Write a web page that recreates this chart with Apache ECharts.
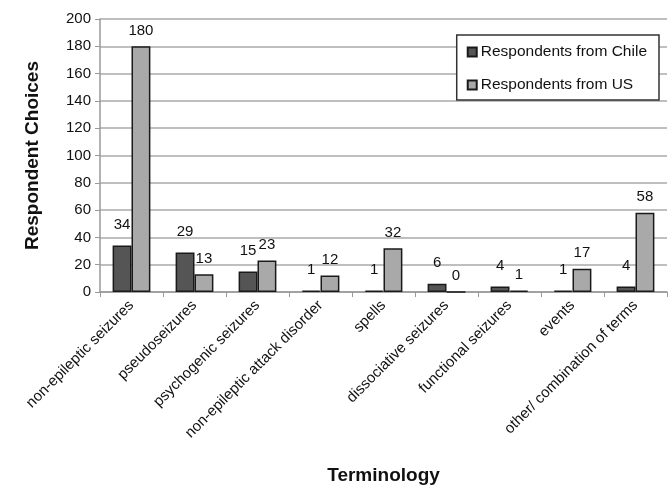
<!DOCTYPE html>
<html>
<head>
<meta charset="utf-8">
<script src="https://cdn.jsdelivr.net/npm/echarts@6/dist/echarts.min.js"></script>
<style>
  html, body { margin: 0; padding: 0; background: #fff; }
  #chart1 { width: 672px; height: 490px; }
</style>
</head>
<body>
<div id="chart1"></div>
<script>
// 数据
var categories = ['non-epileptic seizures', 'pseudoseizures', 'psychogenic seizures',
    'non-epileptic attack disorder', 'spells', 'dissociative seizures',
    'functional seizures', 'events', 'other/ combination of terms'];
var chileValues = [34, 29, 15, 1, 1, 6, 4, 1, 4];
var usValues = [180, 13, 23, 12, 32, 0, 1, 17, 58];
var yTicks = [0, 20, 40, 60, 80, 100, 120, 140, 160, 180, 200];

var myChart1 = echarts.init(document.getElementById('chart1'));

var font = 'Liberation Sans, Arial, sans-serif';

var option = {
    textStyle: { fontFamily: font },
    animation: false,
    legend: {
        data: ['Respondents from Chile', 'Respondents from US'],
        orient: 'vertical',
        right: 13,
        top: 35,
        icon: 'rect',
        itemWidth: 9,
        itemHeight: 9,
        itemGap: 15,
        padding: [8, 12, 6, 10],
        borderColor: '#333',
        borderWidth: 1.5,
        backgroundColor: '#fff',
        textStyle: { fontSize: 15.5, lineHeight: 18, color: '#111', fontFamily: font, padding: [0, 0, 0, -1] }
    },
    grid: {
        left: 100,
        right: 5,
        top: 19,
        bottom: 185
    },
    xAxis: {
        type: 'category',
        data: categories,
        name: 'Terminology',
        nameLocation: 'middle',
        nameGap: 174,
        nameTextStyle: { fontSize: 19, fontWeight: 'bold', color: '#111' },
        axisLine: { lineStyle: { color: '#999', width: 1.5 } },
        axisTick: { show: true, length: 5, lineStyle: { color: '#999' } },
        axisLabel: {
            interval: 0,
            rotate: 45,
            fontSize: 15,
            color: '#111',
            margin: 11
        }
    },
    yAxis: {
        type: 'value',
        min: 0,
        max: 200,
        interval: 20,
        name: 'Respondent Choices',
        nameLocation: 'middle',
        nameGap: 58,
        nameTextStyle: { fontSize: 19, fontWeight: 'bold', color: '#111' },
        axisLine: { show: true, lineStyle: { color: '#999', width: 1.5 } },
        axisTick: { show: true, length: 5, lineStyle: { color: '#999' } },
        axisLabel: {
            fontSize: 15,
            color: '#111',
            margin: 9,
            formatter: function (v) { return yTicks.indexOf(v) >= 0 ? String(v) : ''; }
        },
        splitLine: { lineStyle: { color: '#aaa', width: 1.5 } }
    },
    series: [
        {
            name: 'Respondents from Chile',
            type: 'bar',
            data: chileValues,
            barCategoryGap: '40%',
            barGap: '0%',
            itemStyle: { color: '#555555', borderColor: '#1a1a1a', borderWidth: 1.5 },
            label: { show: true, position: 'top', distance: 13, fontSize: 15, color: '#111' }
        },
        {
            name: 'Respondents from US',
            type: 'bar',
            data: usValues,
            barCategoryGap: '40%',
            barGap: '0%',
            itemStyle: { color: '#a9a9a9', borderColor: '#1a1a1a', borderWidth: 1.5 },
            label: { show: true, position: 'top', distance: 8, fontSize: 15, color: '#111' }
        }
    ]
};

myChart1.setOption(option);
</script>
</body>
</html>
